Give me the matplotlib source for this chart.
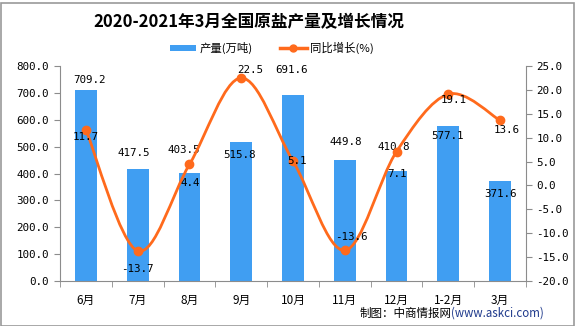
import matplotlib
matplotlib.use("Agg")
import matplotlib.pyplot as plt
from matplotlib.path import Path
from matplotlib.patches import PathPatch, Rectangle
from matplotlib.lines import Line2D
from matplotlib.ticker import FixedLocator, FormatStrFormatter

plt.rcParams['font.family'] = ['Noto Sans CJK SC', 'DejaVu Sans']
plt.rcParams['axes.unicode_minus'] = False

# 数据
months = ['6月', '7月', '8月', '9月', '10月', '11月', '12月', '1-2月', '3月']
output = [709.2, 417.5, 403.5, 515.8, 691.6, 449.8, 410.8, 577.1, 371.6]
growth = [11.7, -13.7, 4.4, 22.5, 5.1, -13.6, 7.1, 19.1, 13.6]

# 标签偏移(像素)
bar_lbl_off = [(4, 10), (-4, 16), (-6, 23), (-2, -13), (-2, 25), (1, 18), (-3, 24), (-1, -10), (0, -13)]
line_lbl_off = [(0, -7), (0, -18), (1, -19), (9, 8), (4, 0), (7, 13), (0, -22), (5, -6), (7, -10)]

BLUE = '#409EF2'
ORANGE = '#FF6A1C'
GRAY = '#8C8C8C'
NUM_FONT = ['DejaVu Sans Mono']

fig = plt.figure(figsize=(5.75, 3.26), dpi=100)
ax = fig.add_axes([60 / 575, 45 / 326, 466 / 575, 215 / 326])
ax2 = ax.twinx()

x = list(range(len(months)))
bars = ax.bar(x, output, width=0.42, color=BLUE, zorder=2, label='产量(万吨)')
ax.set_xlim(-0.5, len(months) - 0.5)
ax.set_ylim(0, 800)
ax.set_yticks(range(0, 801, 100))
ax.yaxis.set_major_formatter(FormatStrFormatter('%.1f'))

ax2.set_ylim(-20, 25)
ax2.set_yticks(range(-20, 26, 5))
ax2.yaxis.set_major_formatter(FormatStrFormatter('%.1f'))

# 平滑曲线 (Bezier)
pts = list(zip(x, growth))
verts = [pts[0]]
codes = [Path.MOVETO]
n = len(pts)
for i in range(n - 1):
    p0 = pts[max(i - 1, 0)]
    p1 = pts[i]
    p2 = pts[i + 1]
    p3 = pts[min(i + 2, n - 1)]
    c1 = (p1[0] + (p2[0] - p0[0]) / 6, p1[1] + (p2[1] - p0[1]) / 6)
    c2 = (p2[0] - (p3[0] - p1[0]) / 6, p2[1] - (p3[1] - p1[1]) / 6)
    verts += [c1, c2, p2]
    codes += [Path.CURVE4] * 3
curve = PathPatch(Path(verts, codes), fill=False, edgecolor=ORANGE, lw=2.0,
                  transform=ax2.transData, zorder=3, capstyle='round')
ax2.add_patch(curve)
ax2.plot(x, growth, 'o', color=ORANGE, ms=6, zorder=4)

# 数据标签
for i, v in enumerate(output):
    dx, dy = bar_lbl_off[i]
    ax.annotate('%.1f' % v, (x[i], v), xytext=(dx, dy), textcoords='offset pixels',
                ha='center', va='center', fontsize=7.8, family=NUM_FONT, zorder=5)
for i, v in enumerate(growth):
    dx, dy = line_lbl_off[i]
    ax2.annotate('%.1f' % v, (x[i], v), xytext=(dx, dy), textcoords='offset pixels',
                 ha='center', va='center', fontsize=7.8, family=NUM_FONT, zorder=5)

# 坐标轴样式
for a in (ax, ax2):
    a.spines['top'].set_visible(False)
    for s in ('left', 'right', 'bottom'):
        a.spines[s].set_color(GRAY)
ax.spines['right'].set_visible(False)
ax2.spines['left'].set_visible(False)
ax2.spines['bottom'].set_visible(False)

ax.set_xticks(x)
ax.set_xticklabels(months, fontsize=8.5)
ax.xaxis.set_minor_locator(FixedLocator([i - 0.5 for i in range(len(months) + 1)]))
ax.tick_params(axis='x', which='major', length=0, pad=9)
ax.tick_params(axis='x', which='minor', length=4, color=GRAY, direction='out')
ax.tick_params(axis='y', length=4, color=GRAY, pad=4)
ax2.tick_params(axis='y', length=4, color=GRAY, pad=3.5)
for lbl in ax.get_yticklabels() + ax2.get_yticklabels():
    lbl.set_family(NUM_FONT)
    lbl.set_fontsize(7.8)

# 标题与图例
fig.text(249 / 575, 1 - 22 / 326, '2020-2021年3月全国原盐产量及增长情况', ha='center', va='center',
         fontsize=12, fontweight='bold')
line_handle = Line2D([], [], color=ORANGE, lw=2.5, marker='o', ms=5)
fig.legend([bars, line_handle], ['产量(万吨)', '同比增长(%)'], loc='center',
           bbox_to_anchor=(272 / 575, 1 - 48 / 326), ncol=2, frameon=False, fontsize=8.2,
           handlelength=2.3, handleheight=0.45, columnspacing=2.4, handletextpad=0.3)

# 来源
fig.text(360 / 575, 1 - 313 / 326, '制图：中商情报网', ha='left', va='center', fontsize=8.3)
fig.text(451 / 575, 1 - 313 / 326, '(www.askci.com)', ha='left', va='center', fontsize=8.3,
         color='#1F3A8C')

fig.add_artist(Rectangle((0.5 / 575, 0.5 / 326), 573 / 575, 323 / 326, transform=fig.transFigure,
                         fill=False, edgecolor='#999999', lw=1.2))

fig.savefig('out.png', dpi=100)
